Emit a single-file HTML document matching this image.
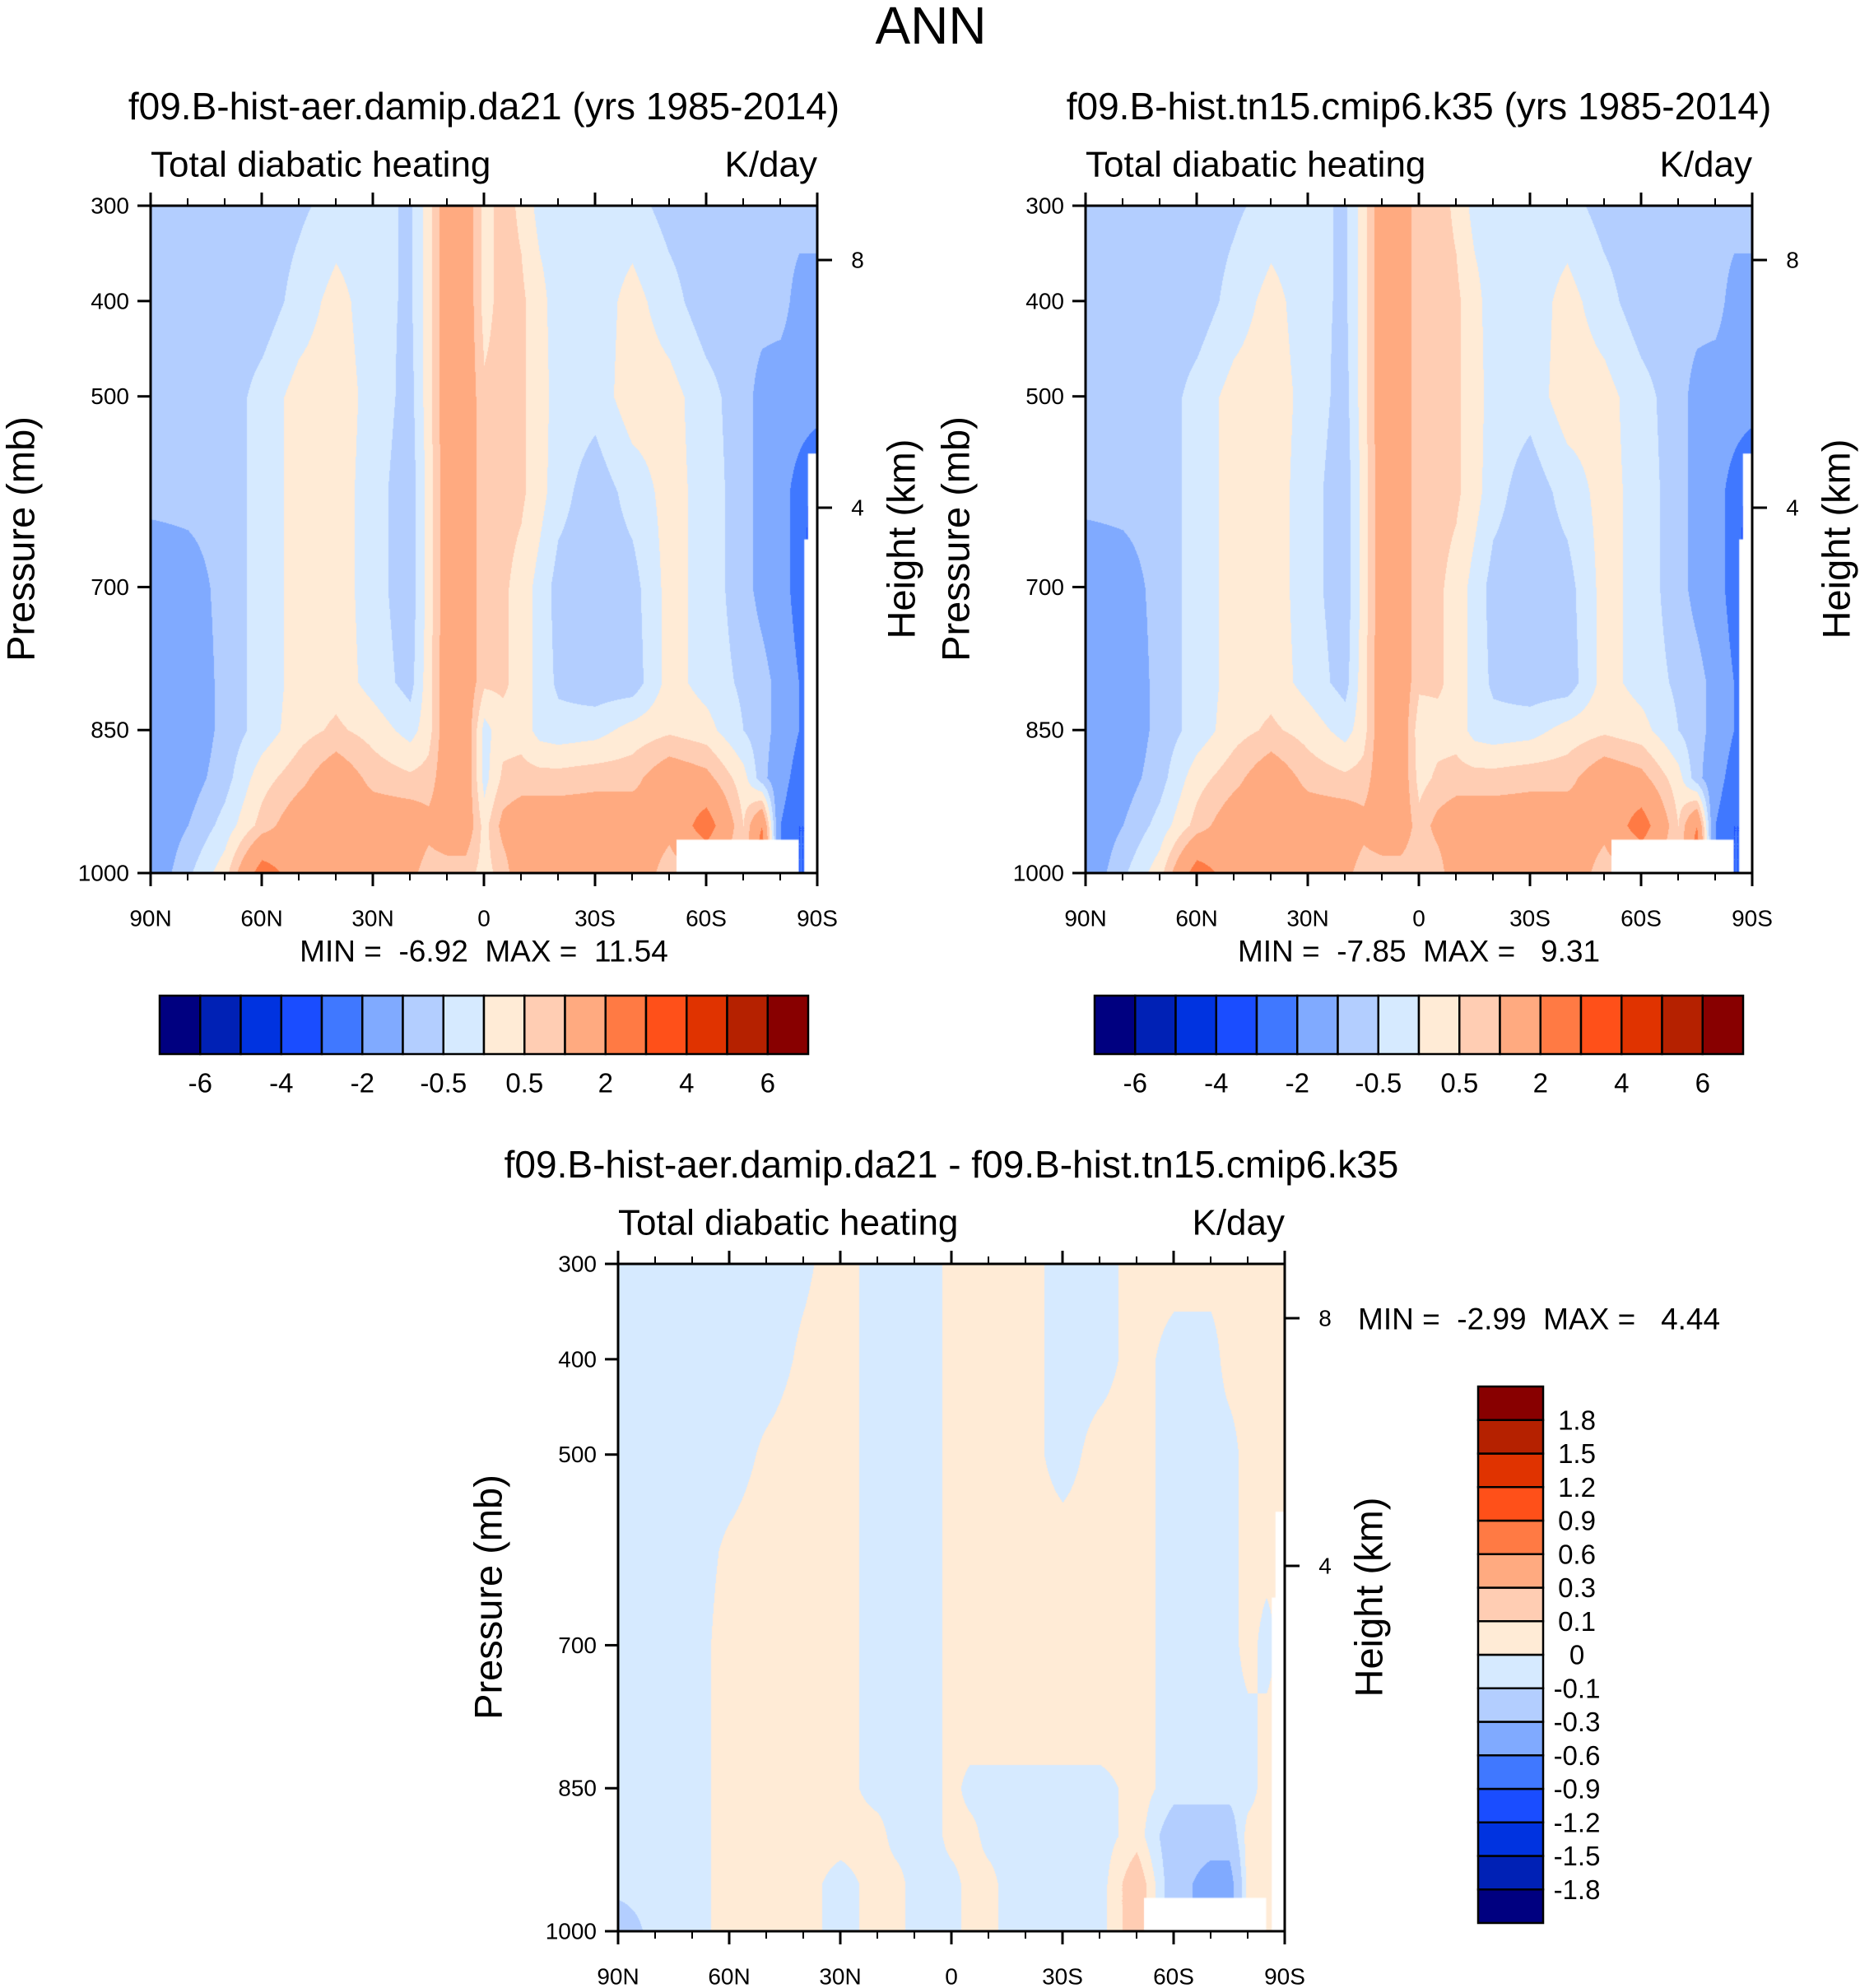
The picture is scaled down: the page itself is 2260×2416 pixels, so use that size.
<!DOCTYPE html>
<html><head><meta charset="utf-8">
<style>
html,body{margin:0;padding:0;background:#fff;}
#root{position:relative;width:2260px;height:2416px;overflow:hidden;font-family:"Liberation Sans",sans-serif;}
canvas{position:absolute;}
svg{position:absolute;left:0;top:0;}
svg text{white-space:pre;}
</style></head>
<body>
<div id="root">
<canvas id="c1"></canvas>
<canvas id="c2"></canvas>
<canvas id="c3"></canvas>
<svg id="svg" width="2260" height="2416"></svg>
</div>
<script>
const lats=[90,80,70,60,50,40,30,20,15,10,5,0,-5,-10,-15,-20,-30,-40,-50,-60,-70,-75,-80,-85,-90];
const pres=[300,400,500,600,700,800,850,900,950,1000];
const levelsMain=[-6,-5,-4,-3,-2,-1,-0.5,0,0.5,1,2,3,4,5,6];
const levelsDiff=[-1.8,-1.5,-1.2,-0.9,-0.6,-0.3,-0.1,0,0.1,0.3,0.6,0.9,1.2,1.5,1.8];
const mainTickLabels=["-6","-4","-2","-0.5","0.5","2","4","6"];
const diffTickLabels=["-1.8","-1.5","-1.2","-0.9","-0.6","-0.3","-0.1","0","0.1","0.3","0.6","0.9","1.2","1.5","1.8"];
const colors=["#000080","#0021b5","#0033e0","#1a4dff","#4078ff","#80aaff","#b3ceff","#d6eaff","#ffebd6","#ffcdb3","#ffaa80","#ff7a44","#ff5019","#e03300","#b52100","#880000"];
const pTicks=[300,400,500,700,850,1000];
const latTickLabels=["90N","60N","30N","0","30S","60S","90S"];
const latTicks=[90,60,30,0,-30,-60,-90];
const kmTicks=["8","4"];
const field1=[
[-0.8,-0.8,-0.8,-0.8,-0.6,-0.3,-0.3,-0.6,0.3,1.5,1.5,0.3,0.7,0.4,-0.2,-0.3,-0.3,-0.3,-0.7,-0.8,-0.8,-0.8,-0.8,-0.8,-0.8],
[-0.8,-0.8,-0.8,-0.8,-0.3,0.2,-0.3,-0.6,0.3,1.5,1.5,0.3,0.7,0.6,0.2,-0.3,-0.3,0.2,-0.3,-0.8,-0.8,-0.8,-0.8,-1.2,-1.2],
[-0.8,-0.8,-0.8,-0.3,0.2,0.3,-0.2,-0.7,0.3,1.5,1.5,0.6,0.7,0.6,0.2,-0.2,-0.3,0.3,0.2,-0.3,-0.8,-1.2,-1.3,-1.3,-1.3],
[-0.8,-0.8,-0.8,-0.3,0.2,0.3,-0.3,-0.8,0.2,1.5,1.5,0.6,0.7,0.6,0.2,-0.3,-0.8,-0.3,0.2,-0.2,-0.8,-1.2,-1.5,-2.5,-3.5],
[-1.5,-1.3,-0.8,-0.3,0.2,0.3,-0.3,-0.8,0.2,1.5,1.5,0.6,0.6,0.3,-0.2,-0.7,-0.8,-0.7,0.2,-0.2,-0.8,-1.2,-1.5,-2.5,-4],
[-1.5,-1.5,-0.8,-0.3,0.2,0.3,-0.2,-0.7,0.3,1.5,1.5,0.6,0.6,0.3,-0.2,-0.6,-0.8,-0.8,0.2,-0.2,-0.6,-0.8,-1.2,-2,-3],
[-1.5,-1.5,-0.8,-0.3,0.3,0.6,0.3,-0.2,0.3,1.5,1.5,-0.2,0.3,0.3,-0.2,-0.3,-0.2,0.2,0.4,0.2,-0.5,-0.8,-1.2,-2,-3],
[-1.5,-1.3,-0.7,0.3,0.8,1.5,0.8,0.6,0.7,1.5,1.5,-0.2,0.6,0.7,0.7,0.7,0.8,0.8,1.5,1.2,0.2,-0.8,-1.5,-2.5,-3],
[-1.5,-1,-0.3,0.7,1.5,1.5,1.5,1.5,1.2,1.5,1.5,0.3,1.2,1.5,1.5,1.5,1.5,1.5,1.2,2.5,0.5,2,-2,-3,-3],
[-1.5,-0.6,0.3,2.5,1.5,1.5,1.5,1.2,0.7,0.7,0.7,0.3,0.7,1.5,1.5,1.5,1.5,1.5,0.7,1,0.5,3,-2,-3,-3]];
const field2=[
[-0.8,-0.8,-0.8,-0.8,-0.6,-0.3,-0.3,-0.6,0.3,1.5,1.5,0.6,0.7,0.4,-0.2,-0.3,-0.3,-0.3,-0.7,-0.8,-0.8,-0.8,-0.8,-0.8,-0.8],
[-0.8,-0.8,-0.8,-0.8,-0.3,0.2,-0.3,-0.6,0.3,1.5,1.5,0.6,0.7,0.6,0.2,-0.3,-0.3,0.2,-0.3,-0.8,-0.8,-0.8,-0.8,-1.2,-1.2],
[-0.8,-0.8,-0.8,-0.3,0.2,0.3,-0.2,-0.7,0.3,1.5,1.5,0.6,0.7,0.6,0.2,-0.2,-0.3,0.3,0.2,-0.3,-0.8,-1.2,-1.3,-1.3,-1.3],
[-0.8,-0.8,-0.8,-0.3,0.2,0.3,-0.3,-0.8,0.2,1.5,1.5,0.6,0.7,0.6,0.2,-0.3,-0.8,-0.3,0.2,-0.2,-0.8,-1.2,-1.5,-2.5,-3.5],
[-1.5,-1.3,-0.8,-0.3,0.2,0.3,-0.3,-0.8,0.2,1.5,1.5,0.6,0.6,0.3,-0.2,-0.7,-0.8,-0.7,0.2,-0.2,-0.8,-1.2,-1.5,-2.5,-4],
[-1.5,-1.5,-0.8,-0.3,0.2,0.3,-0.2,-0.7,0.3,1.5,1.5,0.6,0.6,0.3,-0.2,-0.6,-0.8,-0.8,0.2,-0.2,-0.6,-0.8,-1.2,-2,-3],
[-1.5,-1.5,-0.8,-0.3,0.3,0.6,0.3,-0.2,0.3,1.5,1.5,0.2,0.3,0.3,-0.2,-0.3,-0.2,0.2,0.4,0.2,-0.5,-0.8,-1.2,-2,-3],
[-1.5,-1.3,-0.7,0.3,0.8,1.5,0.8,0.6,0.7,1.5,1.5,0.3,0.6,0.7,0.7,0.7,0.8,0.8,1.5,1.2,0.2,-0.8,-1.5,-2.5,-3],
[-1.5,-1,-0.3,0.7,1.5,1.5,1.5,1.5,1.2,1.5,1.5,0.7,1.2,1.5,1.5,1.5,1.5,1.5,1.2,2.5,0.5,2,-2,-3,-3],
[-1.5,-0.6,0.3,2.5,1.5,1.5,1.5,1.2,0.7,0.7,0.7,0.6,0.7,1.5,1.5,1.5,1.5,1.5,0.7,1,0.5,3,-2,-3,-3]];
const field3=[
[-0.05,-0.05,-0.05,-0.05,-0.05,-0.02,0.05,-0.05,-0.05,-0.05,-0.05,0.05,0.05,0.05,0.05,0.05,-0.05,-0.05,0.05,0.05,0.05,0.05,0.05,0.05,0.05],
[-0.05,-0.05,-0.05,-0.05,-0.05,0.02,0.05,-0.05,-0.05,-0.05,-0.05,0.05,0.05,0.05,0.05,0.05,-0.05,-0.05,0.05,-0.05,-0.05,0.05,0.05,0.05,0.05],
[-0.05,-0.05,-0.05,-0.05,0.02,0.05,0.05,-0.05,-0.05,-0.05,-0.05,0.05,0.05,0.05,0.05,0.05,-0.05,0.05,0.05,-0.05,-0.05,-0.05,0.05,0.05,0.05],
[-0.05,-0.05,-0.05,0.02,0.05,0.05,0.05,-0.05,-0.05,-0.05,-0.05,0.05,0.05,0.05,0.05,0.05,0.05,0.05,0.05,-0.05,-0.05,-0.05,0.05,0.05,0.05],
[-0.05,-0.05,-0.05,0.05,0.05,0.05,0.05,-0.05,-0.05,-0.05,-0.05,0.05,0.05,0.05,0.05,0.05,0.05,0.05,0.05,-0.05,-0.05,-0.05,0.05,-0.05,0.05],
[-0.05,-0.05,-0.05,0.05,0.05,0.05,0.05,-0.05,-0.05,-0.05,-0.05,0.05,0.05,0.05,0.05,0.05,0.05,0.05,0.05,-0.05,-0.05,-0.05,-0.05,0.05,0.05],
[-0.05,-0.05,-0.05,0.05,0.05,0.05,0.05,-0.05,-0.05,-0.05,-0.05,0.05,-0.05,-0.05,-0.05,-0.05,-0.05,-0.05,0.05,-0.05,-0.05,-0.05,-0.05,0.05,0.05],
[-0.05,-0.05,-0.05,0.05,0.05,0.05,0.05,0.05,-0.05,-0.05,-0.05,0.05,0.05,-0.05,-0.05,-0.05,-0.05,-0.05,0.05,-0.2,-0.2,-0.2,0.05,0.05,0.05],
[-0.05,-0.05,-0.05,0.05,0.05,0.05,-0.05,0.05,0.05,-0.05,-0.05,-0.05,0.05,0.05,-0.05,-0.05,-0.05,-0.05,0.2,-0.2,-0.4,-0.4,0.05,0.05,0.05],
[-0.2,-0.05,-0.05,0.05,0.05,0.05,-0.05,0.05,0.05,-0.05,-0.05,-0.05,0.05,0.05,-0.05,-0.05,-0.05,-0.05,0.2,-0.2,-0.4,-0.4,0.05,0.05,0.05]];

const W=810,H=811;
const panels=[
 {id:'c1',x:183,y:250,field:field1,levels:levelsMain,title:"f09.B-hist-aer.damip.da21 (yrs 1985-2014)",minmax:"MIN =  -6.92  MAX =  11.54",name:'panel-1'},
 {id:'c2',x:1319,y:250,field:field2,levels:levelsMain,title:"f09.B-hist.tn15.cmip6.k35 (yrs 1985-2014)",minmax:"MIN =  -7.85  MAX =   9.31",name:'panel-2'},
 {id:'c3',x:751,y:1536,field:field3,levels:levelsDiff,title:"f09.B-hist-aer.damip.da21 - f09.B-hist.tn15.cmip6.k35",minmax:"MIN =  -2.99  MAX =   4.44",name:'panel-diff'}];

function xOfLat(lat){return (90-lat)/180*W;}
function yOfP(p){return (p-300)/700*H;}
function sample(f,lat,p){
  let i=0;while(i<lats.length-2&&lat<lats[i+1])i++;
  let j=0;while(j<pres.length-2&&p>pres[j+1])j++;
  const tx=(lats[i]-lat)/(lats[i]-lats[i+1]);
  const ty=(p-pres[j])/(pres[j+1]-pres[j]);
  const a=f[j][i]*(1-tx)+f[j][i+1]*tx;
  const b=f[j+1][i]*(1-tx)+f[j+1][i+1]*tx;
  return a*(1-ty)+b*ty;
}
function hex(c){return [parseInt(c.substr(1,2),16),parseInt(c.substr(3,2),16),parseInt(c.substr(5,2),16)];}
const rgb=colors.map(hex);
panels.forEach(pn=>{
  const cv=document.getElementById(pn.id);
  cv.width=W;cv.height=H;cv.style.left=pn.x+'px';cv.style.top=pn.y+'px';
  const ctx=cv.getContext('2d');const im=ctx.createImageData(W,H);
  for(let y=0;y<H;y++){const p=300+y/H*700;
    for(let x=0;x<W;x++){const lat=90-x/W*180;const v=sample(pn.field,lat,p);
      let k=0;while(k<pn.levels.length&&v>=pn.levels[k])k++;
      const c=rgb[k];const o=(y*W+x)*4;im.data[o]=c[0];im.data[o+1]=c[1];im.data[o+2]=c[2];im.data[o+3]=255;}}
  ctx.putImageData(im,0,0);
  ctx.fillStyle='#fff';
  ctx.fillRect(xOfLat(-52),yOfP(965),xOfLat(-85)-xOfLat(-52),H);
  ctx.fillRect(xOfLat(-86.5),yOfP(650),W,H);
  ctx.fillRect(xOfLat(-87.5),yOfP(560),W,H);
});

const svg=document.getElementById('svg');const NS='http://www.w3.org/2000/svg';
function el(tag,attrs,txt){const e=document.createElementNS(NS,tag);for(const k in attrs)e.setAttribute(k,attrs[k]);if(txt!==undefined)e.textContent=txt;svg.appendChild(e);return e;}
function text(x,y,s,size,anchor,name,extra){const t=el('text',Object.assign({x:x,y:y,'font-size':size,'text-anchor':anchor||'middle','dominant-baseline':'central','font-family':'Liberation Sans, sans-serif',fill:'#000'},extra||{}),s);
  
  return t;}

text(1131,31,"ANN",64,'middle','main-title');

panels.forEach((pn,idx)=>{
  const X=pn.x,Y=pn.y;
  text(X+W/2,Y-121,pn.title,46,'middle',pn.name+'-title');
  text(X,Y-50,"Total diabatic heating",44,'start',pn.name+'-left-string');
  text(X+W,Y-50,"K/day",44,'end',pn.name+'-units');
  const fr=el('rect',{x:X,y:Y,width:W,height:H,fill:'none',stroke:'#000','stroke-width':3});
  
  
  pTicks.forEach(p=>{const y=Y+yOfP(p);
    const l=el('line',{x1:X-16,x2:X,y1:y,y2:y,stroke:'#000','stroke-width':3});
    
    
    text(X-26,y,String(p),28,'end','pressure-tick-label');});
  for(let lat=90;lat>=-90;lat-=10){const x=X+xOfLat(lat);const major=lat%30===0;const len=major?16:9;
    const a=el('line',{x1:x,x2:x,y1:Y-len,y2:Y,stroke:'#000','stroke-width':major?3:2});
    
    
    const b=el('line',{x1:x,x2:x,y1:Y+H,y2:Y+H+len,stroke:'#000','stroke-width':major?3:2});
    
    }
  latTicks.forEach((lat,i)=>text(X+xOfLat(lat),Y+H+55,latTickLabels[i],28,'middle','lat-tick-label'));
  const kmY=[66,367];
  kmTicks.forEach((s,i)=>{const y=Y+kmY[i];
    const l=el('line',{x1:X+W,x2:X+W+18,y1:y,y2:y,stroke:'#000','stroke-width':3});
    
    
    text(X+W+49,y,s,28,'middle','height-tick-label');});
  text(X-158,Y+405,"Pressure (mb)",47,'middle',pn.name+'-y-axis-title',{transform:`rotate(-90 ${X-158} ${Y+405})`});
  text(X+W+102,Y+405,"Height (km)",47,'middle',pn.name+'-y2-axis-title',{transform:`rotate(-90 ${X+W+102} ${Y+405})`});
  if(idx<2) text(X+W/2,Y+906,pn.minmax,37,'middle',pn.name+'-minmax');
  else text(1650,1603,pn.minmax,37,'start',pn.name+'-minmax');
});

[183,1319].forEach((X0,ci)=>{
  const x0=X0+11,w=788,y0=1210,h=71,bw=w/16;
  colors.forEach((c,k)=>{const r=el('rect',{x:x0+k*bw,y:y0,width:bw,height:h,fill:c,stroke:'#000','stroke-width':2.5});
    
    });
  mainTickLabels.forEach((s,i)=>text(x0+(2*i+1)*bw,1316,s,33,'middle','colorbar-label'));
});
{const x0=1796,w=79,y0=1685,h=652,bh=h/16;
  colors.forEach((c,k)=>{const r=el('rect',{x:x0,y:y0+h-(k+1)*bh,width:w,height:bh,fill:c,stroke:'#000','stroke-width':2.5});
    
    });
  diffTickLabels.forEach((s,i)=>text(1916,y0+h-(i+1)*bh,s,33,'middle','diff-colorbar-label'));
}
</script>
</body></html>
